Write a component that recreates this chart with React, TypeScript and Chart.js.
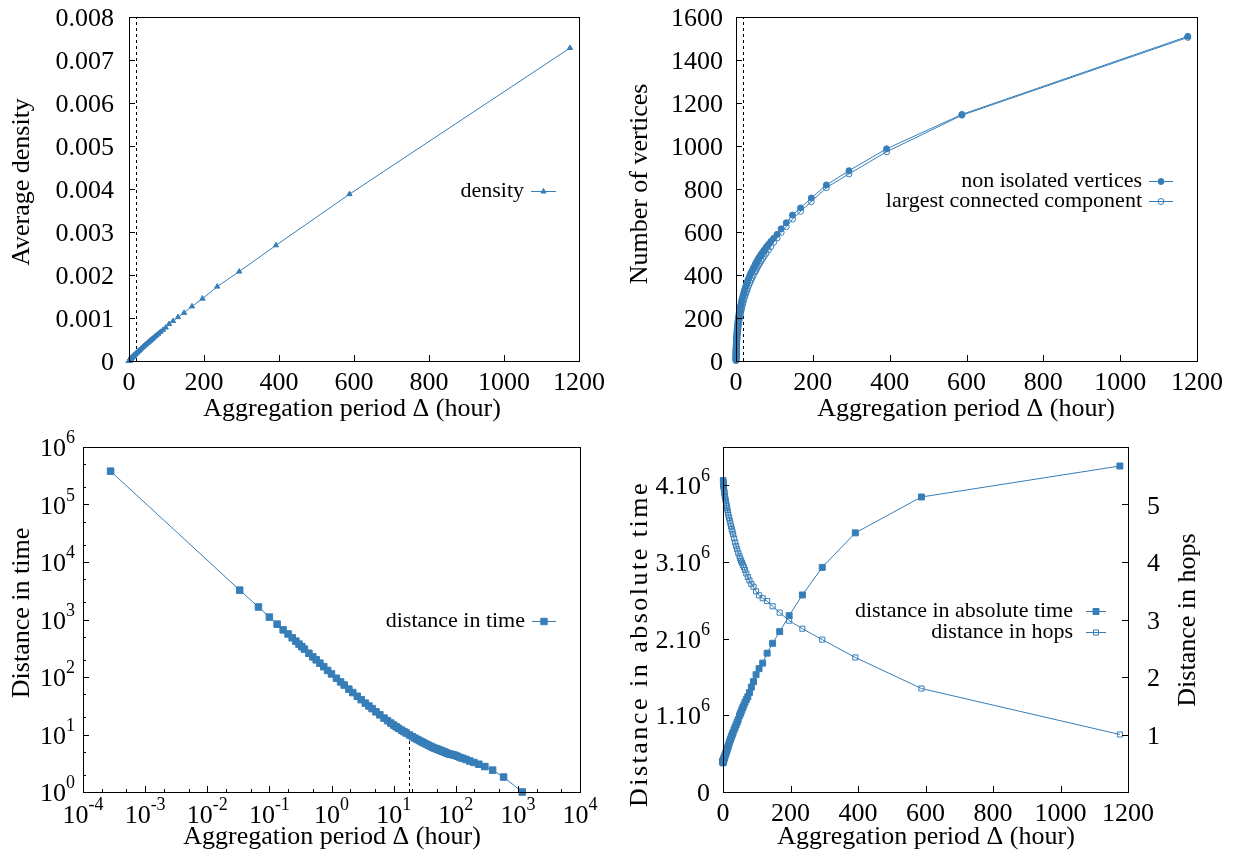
import React, { useEffect, useRef } from "react";
import { Chart, registerables } from "chart.js";

Chart.register(...registerables);

const BLUE = "#377eb8";
const FONT = '"Liberation Serif", "Times New Roman", serif';

// ---------------- data ----------------
const periodHours = [
  0.000278, 0.0333, 0.0667, 0.1, 0.1333, 0.1667, 0.2, 0.233, 0.267, 0.3,
  0.333, 0.367, 0.433, 0.5, 0.567, 0.65, 0.75, 0.867, 1, 1.2,
  1.4, 1.6, 1.9, 2.2, 2.6, 3, 3.5, 4, 4.5, 5.2,
  6, 7, 8, 9, 10, 11, 12, 13.4, 14.7, 16,
  18, 20, 22, 24, 26, 28, 30, 33, 36, 39,
  42, 45, 49, 51.1, 53.5, 56, 58.8, 61.9, 65.3, 69.2,
  73.5, 78.4, 84, 90.5, 98, 106.9, 117.6, 130.7, 147, 168,
  196, 235.2, 294, 392, 588, 1176,
];

const averageDensity = [
  8e-9, 5.9e-7, 1.1e-6, 1.58e-6, 2.05e-6, 2.5e-6, 2.95e-6, 3.38e-6, 3.82e-6, 4.24e-6,
  4.66e-6, 5.09e-6, 5.91e-6, 6.72e-6, 7.52e-6, 8.51e-6, 9.68e-6, 1.1e-5, 1.25e-5, 1.48e-5,
  1.7e-5, 1.91e-5, 2.23e-5, 2.55e-5, 2.96e-5, 3.37e-5, 3.87e-5, 4.37e-5, 4.86e-5, 5.53e-5,
  6.29e-5, 7.22e-5, 8.15e-5, 9.06e-5, 9.96e-5, 1.085e-4, 1.174e-4, 1.297e-4, 1.41e-4, 1.52e-4,
  1.69e-4, 1.86e-4, 2.03e-4, 2.19e-4, 2.35e-4, 2.52e-4, 2.68e-4, 2.92e-4, 3.16e-4, 3.39e-4,
  3.63e-4, 3.86e-4, 4.16e-4, 4.33e-4, 4.5e-4, 4.69e-4, 4.9e-4, 5.14e-4, 5.39e-4, 5.68e-4,
  6.0e-4, 6.35e-4, 6.76e-4, 7.23e-4, 7.77e-4, 8.6e-4, 9.3e-4, 1.02e-3, 1.12e-3, 1.27e-3,
  1.45e-3, 1.73e-3, 2.08e-3, 2.69e-3, 3.88e-3, 7.28e-3,
];

const nonIsolatedVertices = [
  3, 17, 24, 30, 34, 38, 42, 45, 48, 51,
  54, 56, 60, 65, 69, 73, 78, 84, 91, 99,
  106, 112, 121, 129, 139, 148, 158, 167, 176, 187,
  198, 210, 221, 231, 240, 249, 258, 270, 280, 290,
  304, 317, 329, 340, 351, 361, 371, 385, 398, 410,
  421, 432, 446, 453, 461, 469, 478, 487, 496, 506,
  517, 529, 542, 556, 571, 589, 615, 643, 679, 712,
  758, 819, 885, 987, 1147, 1510,
];

const largestComponent = [
  2, 5, 7, 9, 11, 13, 15, 17, 19, 21,
  23, 25, 28, 31, 34, 37, 41, 46, 52, 59,
  66, 72, 81, 89, 99, 108, 118, 127, 136, 148,
  160, 173, 185, 196, 206, 215, 224, 236, 246, 256,
  270, 283, 295, 306, 317, 327, 337, 351, 364, 376,
  388, 399, 413, 420, 428, 437, 446, 455, 465, 476,
  488, 501, 516, 532, 552, 572, 598, 625, 660, 696,
  741, 806, 870, 973, 1143, 1505,
];

const distanceInTime = [
  380000, 3240, 1650, 1100, 830, 660, 560, 481, 420, 373,
  336, 305, 259, 224, 199, 174, 151, 130, 113, 95,
  82, 72.5, 61.6, 53.6, 46.2, 40.3, 35.1, 31.3, 28.2, 24.8,
  22, 19.3, 17.4, 15.8, 14.6, 13.6, 12.8, 11.9, 11.2, 10.6,
  9.8, 9.15, 8.64, 8.2, 7.85, 7.5, 7.2, 6.85, 6.53, 6.26,
  6.02, 5.82, 5.63, 5.54, 5.42, 5.32, 5.2, 5.09, 4.98, 4.84,
  4.69, 4.59, 4.52, 4.42, 4.34, 4.18, 3.97, 3.85, 3.67, 3.46,
  3.26, 3.04, 2.77, 2.4, 1.82, 1.0,
];

const absoluteTimeDistance = [
  380000, 389000, 396000, 396000, 398000, 396000, 403000, 403000, 403000, 403000,
  403000, 403000, 403000, 403000, 407000, 407000, 407000, 407000, 407000, 410000,
  414000, 418000, 421000, 425000, 432000, 436000, 443000, 450000, 457000, 464000,
  475000, 486000, 500000, 511000, 526000, 540000, 554000, 572000, 590000, 608000,
  634000, 659000, 684000, 709000, 734000, 756000, 778000, 814000, 846000, 878000,
  911000, 943000, 994000, 1019000, 1044000, 1073000, 1102000, 1134000, 1170000, 1206000,
  1242000, 1296000, 1368000, 1440000, 1530000, 1609000, 1681000, 1811000, 1940000, 2092000,
  2300000, 2570000, 2930000, 3380000, 3848000, 4252000,
];

const hopDistance = [
  5.42, 5.42, 5.42, 5.41, 5.41, 5.41, 5.41, 5.4, 5.4, 5.4,
  5.4, 5.39, 5.39, 5.39, 5.38, 5.38, 5.37, 5.36, 5.35, 5.34,
  5.33, 5.32, 5.31, 5.3, 5.28, 5.26, 5.24, 5.21, 5.19, 5.15,
  5.13, 5.1, 5.07, 5.03, 5.0, 4.97, 4.94, 4.9, 4.86, 4.82,
  4.77, 4.72, 4.67, 4.62, 4.57, 4.53, 4.48, 4.41, 4.34, 4.28,
  4.22, 4.16, 4.1, 4.06, 4.02, 3.99, 3.95, 3.91, 3.86, 3.8,
  3.74, 3.68, 3.62, 3.57, 3.49, 3.42, 3.37, 3.32, 3.23, 3.12,
  2.98, 2.84, 2.65, 2.34, 1.8, 1.0,
];

const thresholdHours = 17.5;
const thresholdDistance = 10;

// ---------------- ticks ----------------
const periodTickValues = [0, 200, 400, 600, 800, 1000, 1200];
const periodTickLabels = ["0", "200", "400", "600", "800", "1000", "1200"];
const densityTickValues = [0, 0.001, 0.002, 0.003, 0.004, 0.005, 0.006, 0.007, 0.008];
const densityTickLabels = ["0", "0.001", "0.002", "0.003", "0.004", "0.005", "0.006", "0.007", "0.008"];
const vertexTickValues = [0, 200, 400, 600, 800, 1000, 1200, 1400, 1600];
const vertexTickLabels = ["0", "200", "400", "600", "800", "1000", "1200", "1400", "1600"];
const logPeriodTickValues = [1e-4, 1e-3, 1e-2, 1e-1, 1, 10, 100, 1000, 10000];
const logPeriodTickExponents = ["-4", "-3", "-2", "-1", "0", "1", "2", "3", "4"];
const logPeriodMinorTicks = [2e-4, 5e-4, 2e-3, 5e-3, 0.02, 0.05, 0.2, 0.5, 2, 5, 20, 50, 200, 500, 2000, 5000];
const logDistTickValues = [1, 10, 100, 1000, 1e4, 1e5, 1e6];
const logDistTickExponents = ["0", "1", "2", "3", "4", "5", "6"];
const logDistMinorTicks = [2, 5, 20, 50, 200, 500, 2000, 5000, 2e4, 5e4, 2e5, 5e5];
const absTimeTickValues = [0, 1e6, 2e6, 3e6, 4e6];
const absTimeTickBases = ["0", "1.10", "2.10", "3.10", "4.10"];
const absTimeTickSups = ["", "6", "6", "6", "6"];
const hopTickValues = [1, 2, 3, 4, 5];
const hopTickLabels = ["1", "2", "3", "4", "5"];

// ---------------- types ----------------
type Label = { base: string; sup?: string };
type AxisDeco = {
  scaleId: string;
  side: "bottom" | "left" | "right";
  ticks: number[];
  labels: Label[];
  minor?: number[];
  labelAt: number;
  title: string;
  titleAt: [number, number];
  titleSpacing?: number;
};
type LegendItem = { text: string; style: "triangle" | "circle" | "rect"; filled: boolean; r: number; y: number };
type PanelSpec = {
  x: number; y: number; w: number; h: number;
  area: { l: number; t: number; r: number; b: number };
  axes: AxisDeco[];
  legend: { textRight: number; lineStart: number; lineEnd: number; items: LegendItem[] };
  dashed?: { value: number; top?: number };
};

const plain = (arr: string[]): Label[] => arr.map((s) => ({ base: s }));
const powers = (exps: string[]): Label[] => exps.map((e) => ({ base: "10", sup: e }));

function drawLabel(ctx: CanvasRenderingContext2D, lab: Label, x: number, baseline: number, align: "left" | "center" | "right") {
  ctx.font = `26px ${FONT}`;
  const wb = ctx.measureText(lab.base).width;
  let ws = 0;
  if (lab.sup) {
    ctx.font = `18px ${FONT}`;
    ws = ctx.measureText(lab.sup).width;
  }
  const total = wb + ws;
  const x0 = align === "left" ? x : align === "center" ? x - total / 2 : x - total;
  ctx.textAlign = "left";
  ctx.textBaseline = "alphabetic";
  ctx.font = `26px ${FONT}`;
  ctx.fillText(lab.base, x0, baseline);
  if (lab.sup) {
    ctx.font = `18px ${FONT}`;
    ctx.fillText(lab.sup, x0 + wb, baseline - 13);
  }
}

function drawMarker(ctx: CanvasRenderingContext2D, style: string, filled: boolean, r: number, x: number, y: number) {
  ctx.beginPath();
  if (style === "circle") {
    ctx.arc(x, y, r, 0, Math.PI * 2);
  } else if (style === "rect") {
    const s = r * Math.SQRT1_2;
    ctx.rect(x - s, y - s, 2 * s, 2 * s);
  } else {
    let rad = 0;
    ctx.moveTo(x + Math.sin(rad) * r, y - Math.cos(rad) * r);
    rad += (2 * Math.PI) / 3;
    ctx.lineTo(x + Math.sin(rad) * r, y - Math.cos(rad) * r);
    rad += (2 * Math.PI) / 3;
    ctx.lineTo(x + Math.sin(rad) * r, y - Math.cos(rad) * r);
  }
  ctx.closePath();
  if (filled) {
    ctx.fillStyle = BLUE;
    ctx.fill();
  }
  ctx.strokeStyle = BLUE;
  ctx.lineWidth = 1;
  ctx.stroke();
}

function makeDecor(spec: PanelSpec) {
  return {
    id: "decor",
    beforeDatasetsDraw(chart: any) {
      if (!spec.dashed) return;
      const ctx = chart.ctx as CanvasRenderingContext2D;
      const a = chart.chartArea;
      const px = Math.round(chart.scales.x.getPixelForValue(spec.dashed.value)) + 0.5;
      const top = spec.dashed.top != null ? chart.scales.y.getPixelForValue(spec.dashed.top) : a.top;
      ctx.save();
      ctx.strokeStyle = "#000";
      ctx.lineWidth = 1;
      ctx.setLineDash([3, 3]);
      ctx.beginPath();
      ctx.moveTo(px, a.bottom);
      ctx.lineTo(px, top);
      ctx.stroke();
      ctx.restore();
    },
    afterDraw(chart: any) {
      const ctx = chart.ctx as CanvasRenderingContext2D;
      const a = chart.chartArea;
      const ox = spec.x;
      const oy = spec.y;
      ctx.save();
      ctx.strokeStyle = "#000";
      ctx.lineWidth = 1;
      ctx.strokeRect(Math.round(a.left) + 0.5, Math.round(a.top) + 0.5, Math.round(a.right - a.left), Math.round(a.bottom - a.top));
      for (const ax of spec.axes) {
        const sc = chart.scales[ax.scaleId];
        const tick = (v: number, len: number) => {
          const p = Math.round(sc.getPixelForValue(v)) + 0.5;
          ctx.beginPath();
          if (ax.side === "bottom") {
            ctx.moveTo(p, a.bottom);
            ctx.lineTo(p, a.bottom - len);
          } else if (ax.side === "left") {
            ctx.moveTo(a.left, p);
            ctx.lineTo(a.left + len, p);
          } else {
            ctx.moveTo(a.right, p);
            ctx.lineTo(a.right - len, p);
          }
          ctx.stroke();
        };
        ctx.strokeStyle = "#000";
        ctx.lineWidth = 1;
        ax.ticks.forEach((v) => tick(v, 6));
        (ax.minor || []).forEach((v) => tick(v, 3));
        ctx.fillStyle = "#000";
        ax.ticks.forEach((v, i) => {
          const p = sc.getPixelForValue(v);
          const lab = ax.labels[i];
          if (ax.side === "bottom") drawLabel(ctx, lab, p, ax.labelAt - oy, "center");
          else if (ax.side === "left") drawLabel(ctx, lab, ax.labelAt - ox, p + 9, "right");
          else drawLabel(ctx, lab, ax.labelAt - ox, p + 9, "left");
        });
        ctx.save();
        ctx.font = `26px ${FONT}`;
        ctx.textAlign = "center";
        ctx.textBaseline = "middle";
        if (ax.titleSpacing) (ctx as any).letterSpacing = ax.titleSpacing + "px";
        ctx.translate(ax.titleAt[0] - ox, ax.titleAt[1] - oy);
        if (ax.side !== "bottom") ctx.rotate(-Math.PI / 2);
        ctx.fillText(ax.title, 0, 0);
        ctx.restore();
      }
      const lg = spec.legend;
      for (const it of lg.items) {
        const y = it.y - oy;
        ctx.fillStyle = "#000";
        ctx.font = `22px ${FONT}`;
        ctx.textAlign = "right";
        ctx.textBaseline = "middle";
        ctx.fillText(it.text, lg.textRight - ox, y);
        ctx.strokeStyle = BLUE;
        ctx.lineWidth = 1;
        ctx.beginPath();
        ctx.moveTo(lg.lineStart - ox, y + 0.5);
        ctx.lineTo(lg.lineEnd - ox, y + 0.5);
        ctx.stroke();
        drawMarker(ctx, it.style, it.filled, it.r, (lg.lineStart + lg.lineEnd) / 2 - ox, y + 0.5);
      }
      ctx.restore();
    },
  };
}

function axisCfg(type: string, min: number, max: number, position: string, size: number, horizontal: boolean) {
  return {
    type,
    min,
    max,
    position,
    ticks: { display: false },
    grid: { display: false },
    border: { display: false },
    afterFit: (s: any) => {
      if (horizontal) s.height = size;
      else s.width = size;
    },
  };
}

function series(ys: number[], opts: any) {
  return {
    data: periodHours.map((x, i) => ({ x, y: ys[i] })),
    borderColor: BLUE,
    borderWidth: 1,
    backgroundColor: BLUE,
    pointBorderColor: BLUE,
    pointBackgroundColor: BLUE,
    pointBorderWidth: 1,
    clip: false,
    tension: 0,
    ...opts,
  };
}

function buildConfig(spec: PanelSpec, datasets: any[], xType: string, xMin: number, xMax: number, yType: string, yMin: number, yMax: number, y2?: [number, number]) {
  const rightSpace = spec.x + spec.w - spec.area.r;
  const scales: any = {
    x: axisCfg(xType, xMin, xMax, "bottom", spec.y + spec.h - spec.area.b, true),
    y: axisCfg(yType, yMin, yMax, "left", spec.area.l - spec.x, false),
  };
  if (y2) scales.y2 = axisCfg("linear", y2[0], y2[1], "right", rightSpace, false);
  return {
    type: "line",
    data: { datasets },
    options: {
      responsive: false,
      maintainAspectRatio: false,
      animation: false,
      devicePixelRatio: 1,
      events: [],
      layout: { padding: { left: 0, top: spec.area.t - spec.y, right: y2 ? 0 : rightSpace, bottom: 0 } },
      plugins: { legend: { display: false }, tooltip: { enabled: false }, title: { display: false } },
      scales,
    },
    plugins: [makeDecor(spec)],
  };
}

// ---------------- panels ----------------
const densitySpec: PanelSpec = {
  x: 0, y: 0, w: 620, h: 428,
  area: { l: 129, t: 17, r: 579, b: 361 },
  axes: [
    { scaleId: "x", side: "bottom", ticks: periodTickValues, labels: plain(periodTickLabels), labelAt: 390, title: "Aggregation period Δ (hour)", titleAt: [352, 409] },
    { scaleId: "y", side: "left", ticks: densityTickValues, labels: plain(densityTickLabels), labelAt: 114, title: "Average density", titleAt: [22, 182] },
  ],
  legend: { textRight: 524, lineStart: 531, lineEnd: 556, items: [{ text: "density", style: "triangle", filled: true, r: 3, y: 191 }] },
  dashed: { value: thresholdHours },
};

const verticesSpec: PanelSpec = {
  x: 620, y: 0, w: 621, h: 428,
  area: { l: 736, t: 17, r: 1197, b: 361 },
  axes: [
    { scaleId: "x", side: "bottom", ticks: periodTickValues, labels: plain(periodTickLabels), labelAt: 390, title: "Aggregation period Δ (hour)", titleAt: [966, 409] },
    { scaleId: "y", side: "left", ticks: vertexTickValues, labels: plain(vertexTickLabels), labelAt: 723, title: "Number of vertices", titleAt: [640, 184] },
  ],
  legend: {
    textRight: 1142, lineStart: 1149, lineEnd: 1173,
    items: [
      { text: "non isolated vertices", style: "circle", filled: true, r: 3, y: 181 },
      { text: "largest connected component", style: "circle", filled: false, r: 3, y: 201 },
    ],
  },
  dashed: { value: thresholdHours },
};

const timeSpec: PanelSpec = {
  x: 0, y: 428, w: 620, h: 429,
  area: { l: 83, t: 447, r: 580, b: 792 },
  axes: [
    { scaleId: "x", side: "bottom", ticks: logPeriodTickValues, labels: powers(logPeriodTickExponents), minor: logPeriodMinorTicks, labelAt: 823, title: "Aggregation period Δ (hour)", titleAt: [332, 837] },
    { scaleId: "y", side: "left", ticks: logDistTickValues, labels: powers(logDistTickExponents), minor: logDistMinorTicks, labelAt: 75, title: "Distance in time", titleAt: [22, 613] },
  ],
  legend: { textRight: 525, lineStart: 532, lineEnd: 556, items: [{ text: "distance in time", style: "rect", filled: true, r: 4.5, y: 621 }] },
  dashed: { value: thresholdHours, top: thresholdDistance },
};

const absSpec: PanelSpec = {
  x: 620, y: 428, w: 621, h: 429,
  area: { l: 723, t: 447, r: 1128, b: 792 },
  axes: [
    { scaleId: "x", side: "bottom", ticks: periodTickValues, labels: plain(periodTickLabels), labelAt: 821, title: "Aggregation period Δ (hour)", titleAt: [926, 837] },
    {
      scaleId: "y", side: "left", ticks: absTimeTickValues,
      labels: absTimeTickBases.map((b, i) => (absTimeTickSups[i] ? { base: b, sup: absTimeTickSups[i] } : { base: b })),
      labelAt: 710, title: "Distance in absolute time", titleAt: [640, 644], titleSpacing: 2.5,
    },
    { scaleId: "y2", side: "right", ticks: hopTickValues, labels: plain(hopTickLabels), labelAt: 1147, title: "Distance in hops", titleAt: [1188, 620] },
  ],
  legend: {
    textRight: 1073, lineStart: 1086, lineEnd: 1106,
    items: [
      { text: "distance in absolute time", style: "rect", filled: true, r: 4.2, y: 611 },
      { text: "distance in hops", style: "rect", filled: false, r: 3.6, y: 632 },
    ],
  },
};

function Panel({ spec, make }: { spec: PanelSpec; make: () => any }) {
  const ref = useRef<HTMLCanvasElement>(null);
  useEffect(() => {
    if (!ref.current) return;
    const chart = new Chart(ref.current, make());
    return () => chart.destroy();
  }, []);
  return (
    <canvas
      ref={ref}
      width={spec.w}
      height={spec.h}
      style={{ position: "absolute", left: spec.x, top: spec.y, width: spec.w, height: spec.h }}
    />
  );
}

export default function App() {
  return (
    <div style={{ position: "absolute", left: 0, top: 0, width: 1241, height: 857, background: "#fff", overflow: "hidden" }}>
      <Panel
        spec={densitySpec}
        make={() =>
          buildConfig(densitySpec, [series(averageDensity, { pointStyle: "triangle", pointRadius: 3 })], "linear", 0, 1200, "linear", 0, 0.008)
        }
      />
      <Panel
        spec={verticesSpec}
        make={() =>
          buildConfig(
            verticesSpec,
            [
              series(largestComponent, { pointStyle: "circle", pointRadius: 3, pointBackgroundColor: "rgba(255,255,255,0)" }),
              series(nonIsolatedVertices, { pointStyle: "circle", pointRadius: 3 }),
            ],
            "linear", 0, 1200, "linear", 0, 1600
          )
        }
      />
      <Panel
        spec={timeSpec}
        make={() =>
          buildConfig(timeSpec, [series(distanceInTime, { pointStyle: "rect", pointRadius: 4.6 })], "logarithmic", 1e-4, 1e4, "logarithmic", 1, 1e6)
        }
      />
      <Panel
        spec={absSpec}
        make={() =>
          buildConfig(
            absSpec,
            [
              series(absoluteTimeDistance, { pointStyle: "rect", pointRadius: 4.2, yAxisID: "y" }),
              series(hopDistance, { pointStyle: "rect", pointRadius: 3.6, pointBackgroundColor: "rgba(255,255,255,0)", yAxisID: "y2" }),
            ],
            "linear", 0, 1200, "linear", 0, 4500000, [0, 6]
          )
        }
      />
    </div>
  );
}
